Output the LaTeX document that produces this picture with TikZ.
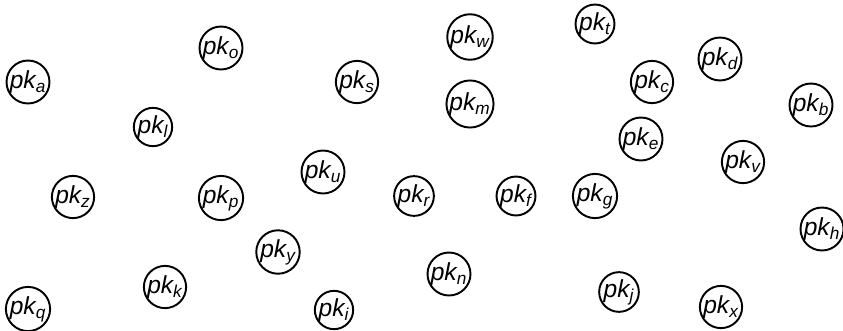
\documentclass[tikz,border=0pt]{standalone}
\usepackage{fontspec}
\setmainfont{Liberation Sans}
\usepackage{tikz}
\newcommand{\pk}[1]{{\itshape pk\textsubscript{#1}}}
\tikzset{
  pkn/.style={circle, draw=black, line width=1.1pt, inner sep=0pt,
              font=\fontsize{14pt}{16pt}\selectfont},
}
\begin{document}
\begin{tikzpicture}
        \useasboundingbox (0,0) rectangle (16.86,6.6);
        \node[pkn] (a) at (0.56,4.96) {\pk{a}};
        \node[pkn] (o) at (4.42,5.64) {\pk{o}};
        \node[pkn] (l) at (3.06,4.06) {\pk{l}};
        \node[pkn] (s) at (7.14,4.96) {\pk{s}};
        \node[pkn] (w) at (9.40,5.86) {\pk{w}};
        \node[pkn] (m) at (9.40,4.52) {\pk{m}};
        \node[pkn] (t) at (11.90,6.12) {\pk{t}};
        \node[pkn] (d) at (14.40,5.42) {\pk{d}};
        \node[pkn] (c) at (13.04,4.96) {\pk{c}};
        \node[pkn] (b) at (16.22,4.50) {\pk{b}};
        \node[pkn] (e) at (12.82,3.82) {\pk{e}};
        \node[pkn] (v) at (14.86,3.36) {\pk{v}};
        \node[pkn] (u) at (6.46,3.16) {\pk{u}};
        \node[pkn] (z) at (1.46,2.66) {\pk{z}};
        \node[pkn] (p) at (4.42,2.64) {\pk{p}};
        \node[pkn] (r) at (8.28,2.68) {\pk{r}};
        \node[pkn] (f) at (10.32,2.68) {\pk{f}};
        \node[pkn] (g) at (11.90,2.68) {\pk{g}};
        \node[pkn] (h) at (16.44,2.02) {\pk{h}};
        \node[pkn] (y) at (5.56,1.56) {\pk{y}};
        \node[pkn] (n) at (8.98,1.12) {\pk{n}};
        \node[pkn] (k) at (3.30,0.86) {\pk{k}};
        \node[pkn] (j) at (12.38,0.76) {\pk{j}};
        \node[pkn] (i) at (6.68,0.40) {\pk{i}};
        \node[pkn] (q) at (0.56,0.42) {\pk{q}};
        \node[pkn] (x) at (14.42,0.46) {\pk{x}};
      \end{tikzpicture}
\end{document}
